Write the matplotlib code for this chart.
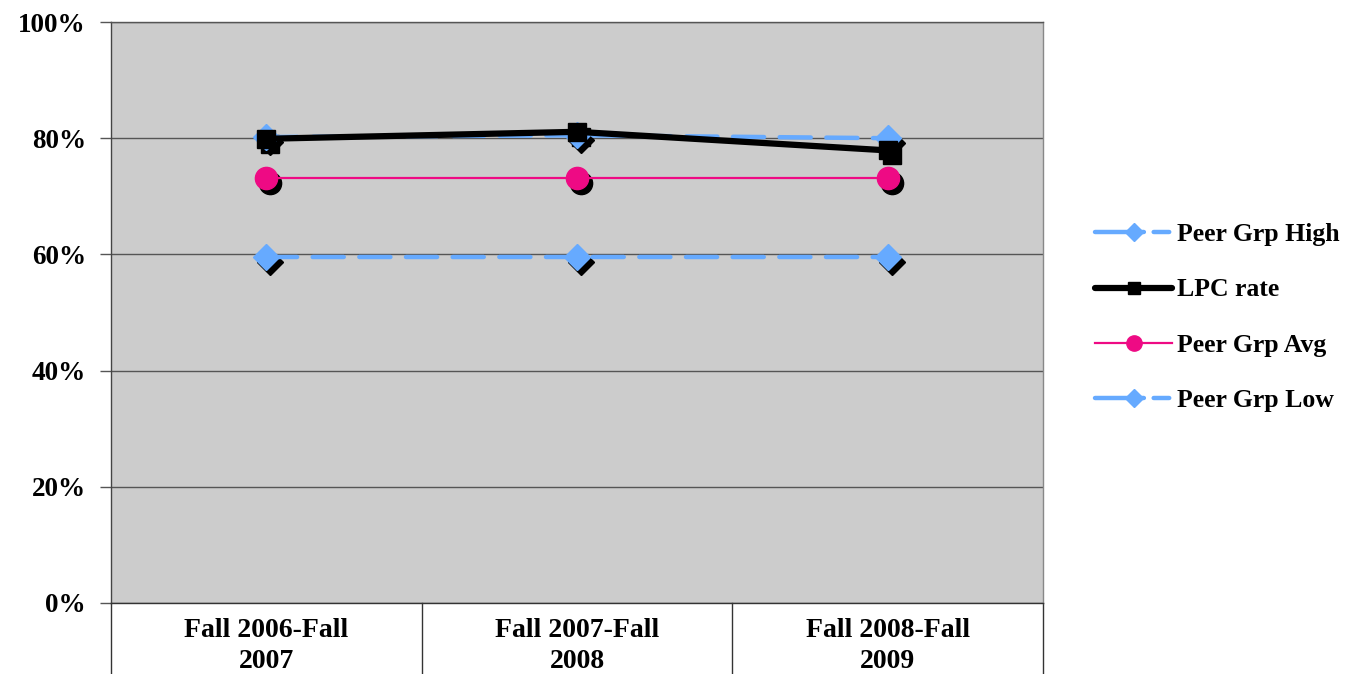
import matplotlib.pyplot as plt
import matplotlib.transforms as mtransforms
from matplotlib.lines import Line2D

categories = ['Fall 2006-Fall\n2007', 'Fall 2007-Fall\n2008', 'Fall 2008-Fall\n2009']
peer_high = [80.2, 80.5, 80.0]
lpc_rate = [79.9, 81.1, 77.9]
peer_avg = [73.2, 73.2, 73.2]
peer_low = [59.6, 59.6, 59.6]
yticks = [0, 20, 40, 60, 80, 100]

BLUE = '#66AAFF'
PINK = '#EE0A84'
FONT = 'Liberation Serif'

fig = plt.figure(figsize=(13.54, 6.74), dpi=100)
ax = fig.add_axes([111 / 1354, 71 / 674, 932 / 1354, 581 / 674])
ax.set_facecolor('#CCCCCC')

x = list(range(len(categories)))

# shadow offset (Excel style drop shadow)
shadow = mtransforms.offset_copy(ax.transData, fig=fig, x=4, y=-5, units='dots')

series = [
    (peer_high, dict(color=BLUE, lw=3.2, ls=(0, (7, 3.5)), marker='D', ms=13)),
    (lpc_rate, dict(color='black', lw=4.5, ls='-', marker='s', ms=13)),
    (peer_avg, dict(color=PINK, lw=1.6, ls='-', marker='o', ms=16)),
    (peer_low, dict(color=BLUE, lw=3.2, ls=(0, (7, 3.5)), marker='D', ms=13)),
]

for vals, st in series:
    ax.plot(x, vals, transform=shadow, color='black', lw=0, marker=st['marker'],
            ms=st['ms'], zorder=3)
    ax.plot(x, vals, color=st['color'], lw=st['lw'], ls=st['ls'], marker=st['marker'],
            ms=st['ms'], mfc=st['color'], mec=st['color'], dash_capstyle='round',
            solid_capstyle='round', zorder=4)

ax.set_xlim(-0.5, 2.5)
ax.set_ylim(0, 100)
ax.set_yticks(yticks)
ax.set_yticklabels([f'{v}%' for v in yticks], fontfamily=FONT, fontweight='bold', fontsize=19.5)
ax.yaxis.grid(True, color='#555555', lw=1)
ax.set_axisbelow(True)
ax.tick_params(axis='y', direction='out', length=8, width=1, color='#555555', pad=10)

ax.set_xticks(x)
ax.set_xticklabels(categories, fontfamily=FONT, fontweight='bold', fontsize=20, linespacing=1.3)
ax.tick_params(axis='x', length=0, pad=11)

for sp in ax.spines.values():
    sp.set_color('#555555')
    sp.set_linewidth(1)
ax.spines['left'].set_color('#444444')
ax.spines['bottom'].set_color('#333333')
ax.spines['right'].set_color('#888888')
ax.spines['top'].set_color('#555555')

# category separators below the axis
sep = mtransforms.blended_transform_factory(ax.transData, ax.transAxes)
for xs in [-0.5, 0.5, 1.5, 2.5]:
    ax.plot([xs, xs], [0, -71 / 581], transform=sep, color='#333333', lw=1, clip_on=False)

dash_leg = (0, (11, 2.2, 3.5, 10))
handles = [
    Line2D([], [], color=BLUE, lw=3.2, ls=dash_leg, marker='D', ms=9, dash_capstyle='round'),
    Line2D([], [], color='black', lw=4.5, marker='s', ms=9, solid_capstyle='round'),
    Line2D([], [], color=PINK, lw=1.6, marker='o', ms=11),
    Line2D([], [], color=BLUE, lw=3.2, ls=dash_leg, marker='D', ms=9, dash_capstyle='round'),
]
labels = ['Peer Grp High', 'LPC rate', 'Peer Grp Avg', 'Peer Grp Low']
fig.legend(handles, labels, loc='upper left', bbox_to_anchor=(1072 / 1354, 1 - 200 / 674),
           frameon=False, prop=dict(family=FONT, weight='bold', size=18.5),
           handlelength=3.0, handletextpad=0.2, labelspacing=1.26)

fig.savefig('out.png', dpi=100)
